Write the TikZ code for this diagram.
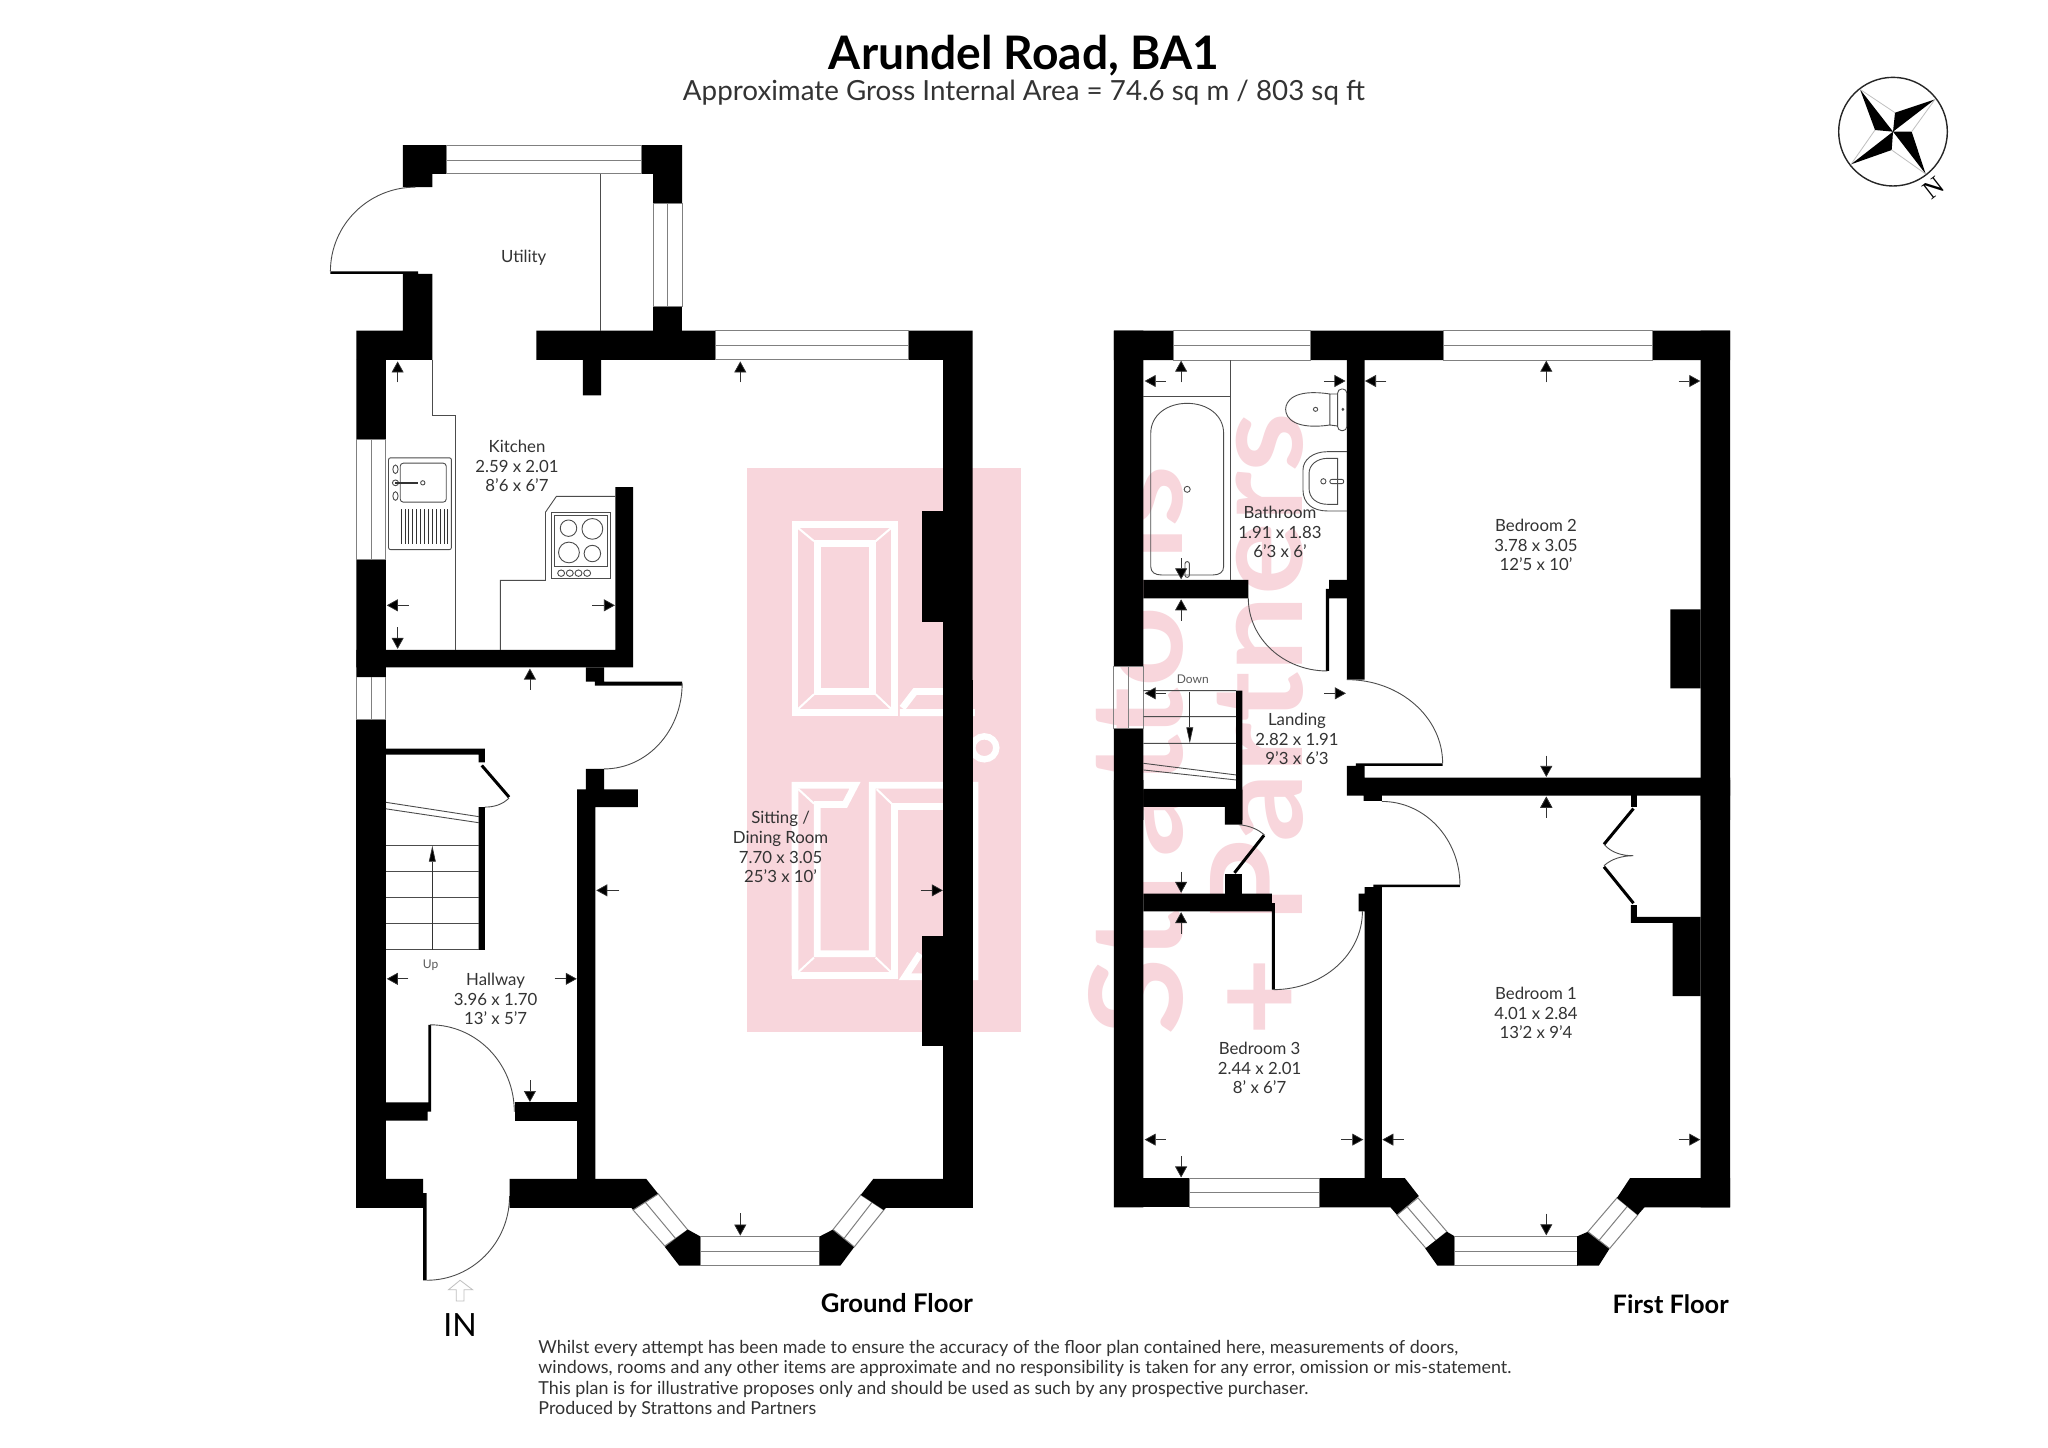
\documentclass[tikz,border=0pt]{standalone}
\usepackage{fontspec}
\setmainfont{Lato}
\newfontfamily\nfont{Liberation Serif}
\usetikzlibrary{arrows.meta}
\definecolor{wmpink}{HTML}{F8D6DC}
\definecolor{labelink}{HTML}{333333}
\newcommand\arcHV[4]{(#1,#2) .. controls ({#1+.5523*(#3-#1)},#2) and (#3,{#4-.5523*(#4-#2)}) .. (#3,#4)}
\newcommand\arcVH[4]{(#1,#2) .. controls (#1,{#2+.5523*(#4-#2)}) and ({#3-.5523*(#3-#1)},#4) .. (#3,#4)}
\tikzset{
 zoneA/.style={shift={(320,130)},xscale=.4337,yscale=.3571},
 zoneB/.style={shift={(320,680)},xscale=.4337,yscale=.4337},
 zoneC/.style={shift={(1100,320)},xscale=.4337,yscale=.3333},
 zoneD/.style={shift={(1100,780)},xscale=.4337,yscale=.3571},
 zoneE/.style={shift={(740,460)},xscale=.3333,yscale=.3827},
 zoneF/.style={shift={(1820,60)},xscale=.3333,yscale=.3333},
 wallfill/.style={fill=black,draw=none},
 winbox/.style={draw=black!50,line width=.5pt,fill=none},
 fineline/.style={draw=black!70,line width=.45pt},
 thickleaf/.style={draw=black,line width=1.5pt},
 dimarrow/.style={draw=black!80,line width=.35pt,-{Triangle[length=5.5pt,width=6pt,fill=black]}},
 roomlabel/.style={align=center,inner sep=0pt,text=labelink,font=\fontsize{8.4}{9.9}\selectfont},
 smalllabel/.style={inner sep=0pt,text=black!65,font=\fontsize{6}{7}\selectfont},
 floorlabel/.style={inner sep=0pt,font=\fontsize{11.5}{13}\selectfont\bfseries},
 wmline/.style={draw=white,line width=3.4pt,line join=miter},
 wmbevel/.style={draw=white,line width=1pt},
 wmtext/.style={rotate=90,anchor=base west,inner sep=0pt,text=wmpink,font=\bfseries},
}
\begin{document}
\begin{tikzpicture}[x=.5pt,y=-.5pt]
\useasboundingbox (0,0) rectangle (2048,1447);
\fill[white] (0,0) rectangle (2048,1447);
% ---------- watermark
\fill[wmpink] (747,468) rectangle (1021,1032);
\begin{scope}[zoneE]
 \draw[wmline] (165,168) rectangle (463,660);
 \draw[wmline] (232,218) rectangle (397,605);
 \draw[wmbevel] (175,178)--(222,212) (453,178)--(407,212) (175,650)--(222,612) (453,650)--(407,612);
 \draw[wmline] (480,660)--(705,660) (487,648)--(525,605)--(610,605);
 \draw[wmline] (165,1347)--(165,850)--(345,850)--(315,900)--(232,900)--(232,1290)--(397,1290)--(397,850)--(705,850)--(705,1350)--(495,1350)--(540,1290);
 \draw[wmline] (155,1347)--(473,1347) (463,1347)--(463,905)--(610,905);
 \draw[wmbevel] (175,860)--(222,898) (410,860)--(455,898) (175,1338)--(222,1300) (407,1300)--(453,1338);
 \draw[draw=white,line width=3.2pt] (733,752) ellipse [x radius=36,y radius=30];
\end{scope}
\node[wmtext] (wmA) at (1182,1036) {\resizebox{285pt}{47pt}{Strattons}};
\node[wmtext] (wmB) at (1302,1037) {\resizebox{312pt}{46pt}{+ Partners}};
% ---------- ground floor, upper part
\begin{scope}[zoneA]
 \fill[wallfill] (191,42) rectangle (292,123) (191,123) rectangle (259,160);
 \fill[wallfill] (741,42) rectangle (835,123) (768,123) rectangle (835,207);
 \fill[wallfill] (768,495) rectangle (835,562);
 \fill[wallfill] (499,562) rectangle (912,644) (606,644) rectangle (648,743);
 \fill[wallfill] (1357,562) rectangle (1505,644) (1437,562) rectangle (1505,1568);
 \fill[wallfill] (1388,1068) rectangle (1437,1377);
 \fill[wallfill] (84,562) rectangle (259,644) (191,403) rectangle (259,562) (24,396) rectangle (226,403);
 \fill[wallfill] (84,644) rectangle (152,866) (84,1203) rectangle (152,1532);
 \fill[wallfill] (84,1456) rectangle (722,1505) (681,1000) rectangle (722,1505);
 \fill[wallfill] (613,1505) rectangle (655,1545) (634,1545) rectangle (835,1556);
 \draw[winbox] (292,42) rectangle (741,123) (292,84)--(741,84);
 \draw[winbox] (768,207) rectangle (835,495) (802,207)--(802,495);
 \draw[winbox] (912,562) rectangle (1357,644) (912,604)--(1357,604);
 \draw[winbox] (84,866) rectangle (152,1203) (119,866)--(119,1203);
 \draw[winbox] (84,1532)--(84,1568) (119,1532)--(119,1568) (152,1532)--(152,1568);
 \draw[fineline] \arcVH{24}{396}{220}{160};
 \draw[fineline] (647,123)--(647,562);
 \draw[fineline] (259,644)--(259,799)--(312,799)--(312,1456);
 \draw[fineline] (416,1456)--(416,1261)--(520,1261)--(520,1070)--(545,1026)--(681,1026);
 % sink
 \draw[fineline,rounded corners=1pt] (158,918) rectangle (303,1175);
 \draw[fineline,rounded corners=1.5pt] (185,933) rectangle (291,1042);
 \draw[fineline] (174,950) ellipse [x radius=6,y radius=12] (174,988) ellipse [x radius=7,y radius=8] (174,1025) ellipse [x radius=6,y radius=12] (237,988) ellipse [x radius=5,y radius=6];
 \draw[draw=black!80,line width=.8pt] (174,988)--(226,988);
 \foreach \xx in {187,196,...,295} \draw[draw=black!80,line width=.5pt] (\xx,1062)--(\xx,1158);
 % hob
 \draw[fineline] (534,1070) rectangle (669,1257) (540,1078) rectangle (663,1222);
 \draw[fineline] (573,1115) ellipse [x radius=19,y radius=23] (628,1117) ellipse [x radius=24,y radius=29] (574,1183) ellipse [x radius=24,y radius=29] (628,1186) ellipse [x radius=19,y radius=23];
 \foreach \xx in {556,576,596,616} \draw[fineline] (\xx,1241) ellipse [x radius=8,y radius=9];
 % dimension arrows
 \draw[dimarrow] (179,707)--(179,648);
 \draw[dimarrow] (969,707)--(969,648);
 \draw[dimarrow] (205,1331)--(154,1331);
 \draw[dimarrow] (628,1331)--(680,1331);
 \draw[dimarrow] (179,1393)--(179,1453);
 \draw[dimarrow] (484,1568)--(484,1508);
\end{scope}
% ---------- ground floor, lower part
\begin{scope}[zoneB]
 \fill[wallfill] (84,91) rectangle (152,1217);
 \fill[wallfill] (1437,0) rectangle (1505,1217);
 \fill[wallfill] (1388,590) rectangle (1437,843);
 \draw[winbox] (84,0)--(84,91) (119,0)--(119,91) (152,0)--(152,91) (84,91)--(152,91);
 \draw[fineline] \arcVH{835}{8}{655}{205};
 \fill[wallfill] (613,205) rectangle (655,252) (593,252) rectangle (733,293) (593,252) rectangle (635,1150);
 % stairs
 \fill[wallfill] (152,158) rectangle (380,172) (366,172) rectangle (380,190) (366,293) rectangle (380,622);
 \draw[thickleaf] (373,197)--(436,270);
 \draw[fineline] (436,272) .. controls (420,288) and (400,293) .. (380,293);
 \draw[fineline] (152,282)--(366,315) (152,297)--(366,329);
 \foreach \yy in {381,441,501,561,622} \draw[fineline] (152,\yy)--(366,\yy);
 \draw[draw=black!80,line width=.35pt,-{Triangle[length=8pt,width=3.4pt,fill=black]}] (259,622)--(259,382);
 % vestibule and door
 \fill[wallfill] (152,974) rectangle (248,1016) (248,974) rectangle (254,995) (250,795) rectangle (256,995);
 \draw[fineline] \arcHV{254}{795}{448}{995};
 \fill[wallfill] (449,974) rectangle (595,1016);
 \fill[wallfill] (84,1150) rectangle (238,1217) (238,1183) rectangle (246,1384);
 \draw[fineline] \arcHV{246}{1384}{437}{1190};
 % bay
 \fill[wallfill] (437,1150)--(752,1150)--(780,1185)--(722,1222)--(718,1217)--(437,1217)--cycle;
 \draw[winbox] (722,1222)--(780,1185)--(848,1268)--(795,1305)--cycle (750,1204)--(820,1288);
 \fill[wallfill] (795,1307)--(848,1267)--(877,1283)--(877,1350)--(828,1350)--cycle;
 \draw[winbox] (877,1283) rectangle (1152,1350) (877,1317)--(1152,1317);
 \fill[wallfill] (1152,1283)--(1183,1267)--(1232,1307)--(1200,1350)--(1152,1350)--cycle;
 \draw[winbox] (1183,1267)--(1232,1307)--(1300,1222)--(1247,1187)--cycle (1208,1288)--(1273,1204);
 \fill[wallfill] (1247,1187)--(1276,1150)--(1505,1150)--(1505,1217)--(1305,1217)--(1300,1222)--cycle;
 % arrows
 \draw[dimarrow] (204,689)--(154,689);
 \draw[dimarrow] (541,689)--(592,689);
 \draw[dimarrow] (484,923)--(484,973);
 \draw[dimarrow] (690,485)--(637,485);
 \draw[dimarrow] (1385,485)--(1436,485);
 \draw[dimarrow] (969,1230)--(969,1281);
 \draw[draw=black!25,line width=.4pt] (296,1406)--(323,1384)--(352,1406)--(332,1406)--(332,1432)--(314,1432)--(314,1406)--cycle;
\end{scope}
% ---------- first floor, upper part
\begin{scope}[zoneC]
 \fill[wallfill] (32,32) rectangle (169,120) (486,32) rectangle (793,120) (1275,32) rectangle (1453,120);
 \fill[wallfill] (1385,32) rectangle (1453,1500) (32,32) rectangle (100,1040) (32,1226) rectangle (100,1500);
 \fill[wallfill] (569,120) rectangle (610,1079) (1315,868) rectangle (1385,1105);
 \fill[wallfill] (100,780) rectangle (342,835) (528,780) rectangle (569,835) (521,807) rectangle (528,1053);
 \fill[wallfill] (590,1330) rectangle (790,1338) (569,1338) rectangle (610,1373) (569,1373) rectangle (1453,1427) (608,1427) rectangle (650,1443);
 \fill[wallfill] (314,1112) rectangle (328,1500) (100,1407) rectangle (328,1460);
 \draw[winbox] (169,32) rectangle (486,120) (169,76)--(486,76);
 \draw[winbox] (793,32) rectangle (1275,120) (793,76)--(1275,76);
 \draw[winbox] (32,1040) rectangle (100,1226) (66,1040)--(66,1226);
 \draw[fineline] \arcVH{342}{835}{524}{1053};
 \draw[fineline] \arcHV{569}{1079}{790}{1330};
 % landing stairs
 \draw[fineline] (100,1112)--(314,1112) (100,1190)--(314,1190) (100,1270)--(314,1270) (100,1330)--(314,1365) (100,1350)--(314,1380);
 \draw[draw=black!80,line width=.35pt,-{Triangle[length=8pt,width=3.4pt,fill=black]}] (207,1115)--(207,1270);
 % bathroom
 \draw[fineline] (301,120)--(301,780) (100,230)--(301,230);
 \draw[fineline] (117,340) .. controls (117,285) and (155,250) .. (201,250) .. controls (247,250) and (285,285) .. (285,340) -- (285,740) .. controls (285,757) and (275,765) .. (260,765) -- (142,765) .. controls (127,765) and (117,757) .. (117,740) -- cycle;
 \draw[fineline] (201,508) ellipse [x radius=7,y radius=9];
 \draw[fineline,rounded corners=1pt] (196,725) rectangle (206,772);
 \draw[fineline,rounded corners=2pt] (548,207) rectangle (569,332);
 \draw[fineline] (530,222) .. controls (445,205) and (428,245) .. (428,268) .. controls (428,295) and (450,330) .. (530,315) -- cycle (530,222)--(548,222) (530,315)--(548,318);
 \draw[fineline] (497,268) ellipse [x radius=5,y radius=6] (560,268) ellipse [x radius=2,y radius=3];
 \draw[fineline] (569,395) -- (525,395) .. controls (490,395) and (468,420) .. (468,450) -- (468,510) .. controls (468,550) and (490,573) .. (525,573) -- (569,573);
 \draw[fineline] (548,415) -- (525,415) .. controls (500,415) and (482,435) .. (482,460) -- (482,505) .. controls (482,535) and (500,553) .. (525,553) -- (548,553) -- cycle;
 \draw[fineline] (515,484) ellipse [x radius=6,y radius=8];
 \draw[fineline,rounded corners=1pt] (530,478) rectangle (562,491);
 % arrows
 \draw[dimarrow] (152,183)--(103,183);
 \draw[dimarrow] (187,187)--(187,122);
 \draw[dimarrow] (516,183)--(566,183);
 \draw[dimarrow] (660,183)--(611,183);
 \draw[dimarrow] (1029,187)--(1029,122);
 \draw[dimarrow] (1334,183)--(1384,183);
 \draw[dimarrow] (187,715)--(187,778);
 \draw[dimarrow] (187,902)--(187,838);
 \draw[dimarrow] (152,1120)--(103,1120);
 \draw[dimarrow] (517,1120)--(567,1120);
 \draw[dimarrow] (1029,1307)--(1029,1371);
 \draw[dimarrow] (1029,1493)--(1029,1430);
\end{scope}
% ---------- first floor, lower part
\begin{scope}[zoneD]
 \fill[wallfill] (32,0) rectangle (100,1197) (1385,0) rectangle (1453,1197);
 \fill[wallfill] (100,27) rectangle (328,75) (288,75) rectangle (328,125);
 \draw[thickleaf] (378,155)--(310,260);
 \draw[fineline] (320,125) .. controls (345,128) and (365,138) .. (380,155);
 \fill[wallfill] (288,263) rectangle (328,318);
 \fill[wallfill] (100,318) rectangle (396,368) (396,345) rectangle (403,587);
 \draw[fineline] \arcHV{400}{587}{605}{368};
 \fill[wallfill] (596,318) rectangle (650,368) (610,300) rectangle (650,1115) (630,293) rectangle (830,300);
 \draw[fineline] \arcHV{650}{60}{830}{295};
 % wardrobe
 \fill[wallfill] (1224,40) rectangle (1238,75);
 \draw[thickleaf] (1230,80)--(1162,180);
 \draw[fineline] (1162,180) .. controls (1180,205) and (1205,212) .. (1230,212) .. controls (1205,212) and (1180,220) .. (1162,240);
 \draw[thickleaf] (1162,243)--(1230,345);
 \fill[wallfill] (1224,350) rectangle (1238,400) (1224,383) rectangle (1385,400) (1320,400) rectangle (1385,605);
 % bottom wall and bay
 \fill[wallfill] (32,1115) rectangle (206,1197);
 \draw[winbox] (206,1115) rectangle (507,1197) (206,1156)--(507,1156);
 \fill[wallfill] (507,1115)--(703,1115)--(735,1165)--(685,1218)--(670,1197)--(507,1197)--cycle;
 \draw[winbox] (685,1218)--(733,1170)--(800,1265)--(752,1312)--cycle (708,1195)--(775,1290);
 \fill[wallfill] (750,1312)--(800,1265)--(818,1278)--(818,1360)--(778,1360)--cycle;
 \draw[winbox] (818,1278) rectangle (1100,1360) (818,1319)--(1100,1319);
 \fill[wallfill] (1100,1278)--(1125,1265)--(1175,1312)--(1150,1360)--(1100,1360)--cycle;
 \draw[winbox] (1125,1265)--(1175,1312)--(1240,1218)--(1192,1170)--cycle (1150,1290)--(1215,1195);
 \fill[wallfill] (1192,1170)--(1222,1115)--(1453,1115)--(1453,1197)--(1255,1197)--(1240,1218)--cycle;
 % arrows
 \draw[dimarrow] (1029,106)--(1029,47);
 \draw[dimarrow] (187,257)--(187,316);
 \draw[dimarrow] (187,430)--(187,370);
 \draw[dimarrow] (152,1007)--(103,1007);
 \draw[dimarrow] (556,1007)--(607,1007);
 \draw[dimarrow] (700,1007)--(651,1007);
 \draw[dimarrow] (1334,1007)--(1384,1007);
 \draw[dimarrow] (187,1053)--(187,1113);
 \draw[dimarrow] (1029,1214)--(1029,1275);
\end{scope}
% ---------- compass
\begin{scope}[zoneF]
 \draw[draw=black!85,line width=.7pt] (219,215) circle [radius=163];
 \fill[black] (120,88)--(219,215)--(165,210)--cycle (345,118)--(225,158)--(219,215)--cycle (317,342)--(275,215)--(219,215)--cycle (93,313)--(215,270)--(219,215)--cycle;
 \draw[draw=black!25,line width=.4pt] (120,88)--(225,158) (345,118)--(275,215) (317,342)--(215,270) (93,313)--(165,210);
 \node[inner sep=0pt,rotate=38,font=\nfont\fontsize{13}{13}\selectfont] (north) at (342,385) {N};
\end{scope}
% ---------- texts
\node[inner sep=0pt,font=\bfseries] (title) at (1024,55.5) {\resizebox{195pt}{!}{Arundel Road, BA1}};
\node[inner sep=0pt,text=labelink] (subtitle) at (1024,93) {\resizebox{341pt}{!}{Approximate Gross Internal Area = 74.6 sq m / 803 sq ft}};
\node[roomlabel] (utility) at (523.7,258) {Utility};
\node[roomlabel] (kitchen) at (517,466) {Kitchen\\2.59 x 2.01\\8'6 x 6'7};
\node[roomlabel] (hallway) at (495.6,999) {Hallway\\3.96 x 1.70\\13' x 5'7};
\node[roomlabel] (sitting) at (780.6,847) {Sitting /\\Dining Room\\7.70 x 3.05\\25'3 x 10'};
\node[roomlabel] (bathroom) at (1280,532) {Bathroom\\1.91 x 1.83\\6'3 x 6'};
\node[roomlabel] (bedtwo) at (1536,545) {Bedroom 2\\3.78 x 3.05\\12'5 x 10'};
\node[roomlabel] (landing) at (1297,739) {Landing\\2.82 x 1.91\\9'3 x 6'3};
\node[roomlabel] (bedone) at (1536,1013) {Bedroom 1\\4.01 x 2.84\\13'2 x 9'4};
\node[roomlabel] (bedthree) at (1259.6,1068) {Bedroom 3\\2.44 x 2.01\\8' x 6'7};
\node[smalllabel] (uplabel) at (430.6,965.4) {Up};
\node[smalllabel] (downlabel) at (1192.8,679) {Down};
\node[floorlabel] (ground) at (896.8,1303) {\resizebox{76pt}{!}{Ground Floor}};
\node[floorlabel] (first) at (1670.7,1304) {\resizebox{58pt}{!}{First Floor}};
\node[inner sep=0pt,font=\fontsize{16}{16}\selectfont] (inlabel) at (460,1325) {IN};
\node[anchor=north west,inner sep=0pt,text=labelink,align=left,font=\fontsize{8.95}{10.15}\selectfont] (disclaimer) at (538,1340) {Whilst every attempt has been made to ensure the accuracy of the floor plan contained here, measurements of doors,\\windows, rooms and any other items are approximate and no responsibility is taken for any error, omission or mis-statement.\\This plan is for illustrative proposes only and should be used as such by any prospective purchaser.\\Produced by Strattons and Partners};
\end{tikzpicture}
\end{document}
